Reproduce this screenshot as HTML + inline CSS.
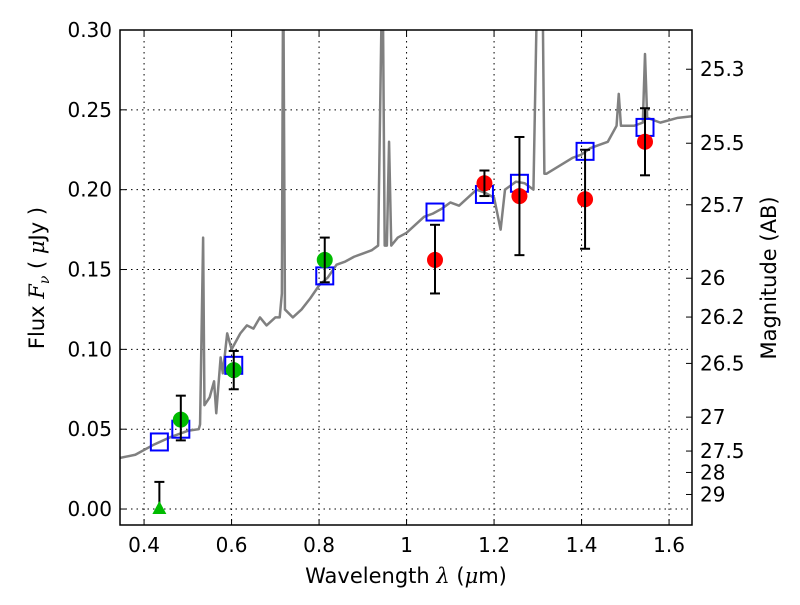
<!DOCTYPE html>
<html><head><meta charset="utf-8"><style>body{margin:0;background:#fff}svg{font-family:"DejaVu Sans","Liberation Sans",sans-serif}</style></head>
<body>
<svg id="chart" width="800" height="600" xmlns="http://www.w3.org/2000/svg">
<defs><clipPath id="clip"><rect x="120" y="30" width="572" height="495"/></clipPath></defs>
<g id="grid"></g>
<g id="spec" clip-path="url(#clip)"></g>
<g id="marks" clip-path="url(#clip)"></g>
<rect x="120" y="30" width="572" height="495" fill="none" stroke="#000" stroke-width="1.5"/>
<g id="axes" font-size="20"></g>
<text x="406" y="583" text-anchor="middle" font-size="21">Wavelength  <tspan font-family="DejaVu Serif" font-style="italic">λ</tspan> (<tspan font-style="italic" font-family="DejaVu Serif">μ</tspan>m)</text>
<text transform="translate(44,278) rotate(-90)" text-anchor="middle" font-size="21">Flux  <tspan font-family="DejaVu Serif" font-style="italic">F</tspan><tspan font-family="DejaVu Serif" font-style="italic" font-size="14" dy="5">ν</tspan><tspan dy="-5">  ( </tspan><tspan font-family="DejaVu Serif" font-style="italic">μ</tspan>Jy )</text>
<text transform="translate(776,278) rotate(-90)" text-anchor="middle" font-size="21">Magnitude (AB)</text>
</svg>
<script>
const xTicks=[0.4,0.6,0.8,1.0,1.2,1.4,1.6];
const xTickLabels=["0.4","0.6","0.8","1","1.2","1.4","1.6"];
const yTicks=[0,0.05,0.1,0.15,0.2,0.25,0.3];
const yTickLabels=["0.00","0.05","0.10","0.15","0.20","0.25","0.30"];
const magTicks=[25.3,25.5,25.7,26,26.2,26.5,27,27.5,28,29];
const specWl=[0.345,0.38,0.42,0.46,0.50,0.525,0.528,0.535,0.538,0.55,0.56,0.565,0.575,0.58,0.59,0.60,0.61,0.62,0.635,0.65,0.665,0.68,0.70,0.71,0.715,0.718,0.722,0.74,0.76,0.78,0.80,0.82,0.84,0.86,0.88,0.90,0.92,0.935,0.945,0.95,0.955,0.96,0.965,0.98,1.0,1.02,1.04,1.06,1.08,1.10,1.12,1.14,1.16,1.18,1.20,1.215,1.225,1.25,1.27,1.29,1.30,1.31,1.315,1.32,1.35,1.38,1.40,1.42,1.44,1.46,1.48,1.485,1.49,1.52,1.54,1.545,1.55,1.58,1.62,1.653];
const specFlux=[0.032,0.034,0.040,0.045,0.049,0.050,0.053,0.170,0.065,0.07,0.08,0.06,0.095,0.085,0.11,0.10,0.105,0.11,0.115,0.113,0.12,0.115,0.12,0.12,0.135,0.35,0.125,0.12,0.125,0.132,0.14,0.145,0.153,0.155,0.158,0.16,0.162,0.165,0.35,0.165,0.165,0.23,0.165,0.17,0.173,0.178,0.183,0.185,0.188,0.192,0.19,0.195,0.2,0.198,0.195,0.175,0.2,0.205,0.204,0.2,0.35,0.35,0.21,0.21,0.215,0.22,0.222,0.226,0.228,0.23,0.24,0.26,0.24,0.24,0.242,0.285,0.245,0.242,0.245,0.246];
const modelWl=[0.435,0.484,0.605,0.813,1.065,1.178,1.258,1.408,1.545];
const modelFlux=[0.042,0.050,0.090,0.146,0.186,0.197,0.204,0.224,0.239];
const greenWl=[0.484,0.605,0.813];
const greenFlux=[0.056,0.087,0.156];
const greenHi=[0.071,0.099,0.170];
const greenLo=[0.043,0.075,0.142];
const redWl=[1.065,1.178,1.258,1.408,1.545];
const redFlux=[0.156,0.204,0.196,0.194,0.230];
const redHi=[0.178,0.212,0.233,0.225,0.251];
const redLo=[0.135,0.196,0.159,0.163,0.209];
const limitWl=[0.435];
const limitFlux=[0.0];
const limitHi=[0.017];

const NS="http://www.w3.org/2000/svg";
const X=w=>120+(w-0.345)*437.5;
const Y=f=>525-(f+0.01)/0.31*495;
function mk(tag,attrs,parent){const e=document.createElementNS(NS,tag);for(const k in attrs)e.setAttribute(k,attrs[k]);parent.appendChild(e);return e;}
const grid=document.getElementById('grid'),axes=document.getElementById('axes'),spec=document.getElementById('spec'),marks=document.getElementById('marks');
xTicks.forEach((t,i)=>{const x=X(t);
 let g=mk('line',{x1:x,x2:x,y1:30,y2:525,stroke:'#000','stroke-dasharray':'1.5,4','stroke-width':1},grid);
 
 mk('line',{x1:x,x2:x,y1:525,y2:519,stroke:'#000'},axes);mk('line',{x1:x,x2:x,y1:30,y2:36,stroke:'#000'},axes);
 let tx=mk('text',{x:x,y:552,'text-anchor':'middle'},axes);tx.textContent=xTickLabels[i];
 });
yTicks.forEach((t,i)=>{const y=Y(t);
 let g=mk('line',{x1:120,x2:692,y1:y,y2:y,stroke:'#000','stroke-dasharray':'1.5,4','stroke-width':1},grid);
 
 mk('line',{x1:120,x2:126,y1:y,y2:y,stroke:'#000'},axes);
 let tx=mk('text',{x:112,y:y+7,'text-anchor':'end'},axes);tx.textContent=yTickLabels[i];
 });
magTicks.forEach(m=>{const y=Y(Math.pow(10,-0.4*(m-23.9)));
 mk('line',{x1:686,x2:692,y1:y,y2:y,stroke:'#000'},axes);
 let tx=mk('text',{x:700,y:y+7},axes);tx.textContent=String(m);
 });
let p=mk('polyline',{points:specWl.map((w,i)=>X(w)+','+Y(specFlux[i])).join(' '),fill:'none',stroke:'#808080','stroke-width':2.5,'stroke-linejoin':'round'},spec);

function err(x,hi,lo){mk('line',{x1:x,x2:x,y1:Y(hi),y2:Y(lo),stroke:'#000','stroke-width':2},marks);
 mk('line',{x1:x-5,x2:x+5,y1:Y(hi),y2:Y(hi),stroke:'#000','stroke-width':2},marks);
 mk('line',{x1:x-5,x2:x+5,y1:Y(lo),y2:Y(lo),stroke:'#000','stroke-width':2},marks);}
modelWl.forEach((w,i)=>{let r=mk('rect',{x:X(w)-8.5,y:Y(modelFlux[i])-8.5,width:17,height:17,fill:'none',stroke:'#0000ff','stroke-width':2},marks);
 });
greenWl.forEach((w,i)=>{let c=mk('circle',{cx:X(w),cy:Y(greenFlux[i]),r:8,fill:'#00bb00'},marks);
 err(X(w),greenHi[i],greenLo[i]);});
redWl.forEach((w,i)=>{let c=mk('circle',{cx:X(w),cy:Y(redFlux[i]),r:8,fill:'#ff0000'},marks);
 err(X(w),redHi[i],redLo[i]);});
limitWl.forEach((w,i)=>{const x=X(w),y=Y(limitFlux[i]);
 mk('line',{x1:x,x2:x,y1:Y(limitHi[i]),y2:y,stroke:'#000','stroke-width':2},marks);
 mk('line',{x1:x-5,x2:x+5,y1:Y(limitHi[i]),y2:Y(limitHi[i]),stroke:'#000','stroke-width':2},marks);
 let t=mk('polygon',{points:`${x},${y-8} ${x-7},${y+5} ${x+7},${y+5}`,fill:'#00bb00'},marks);
 });
</script>
</body></html>
